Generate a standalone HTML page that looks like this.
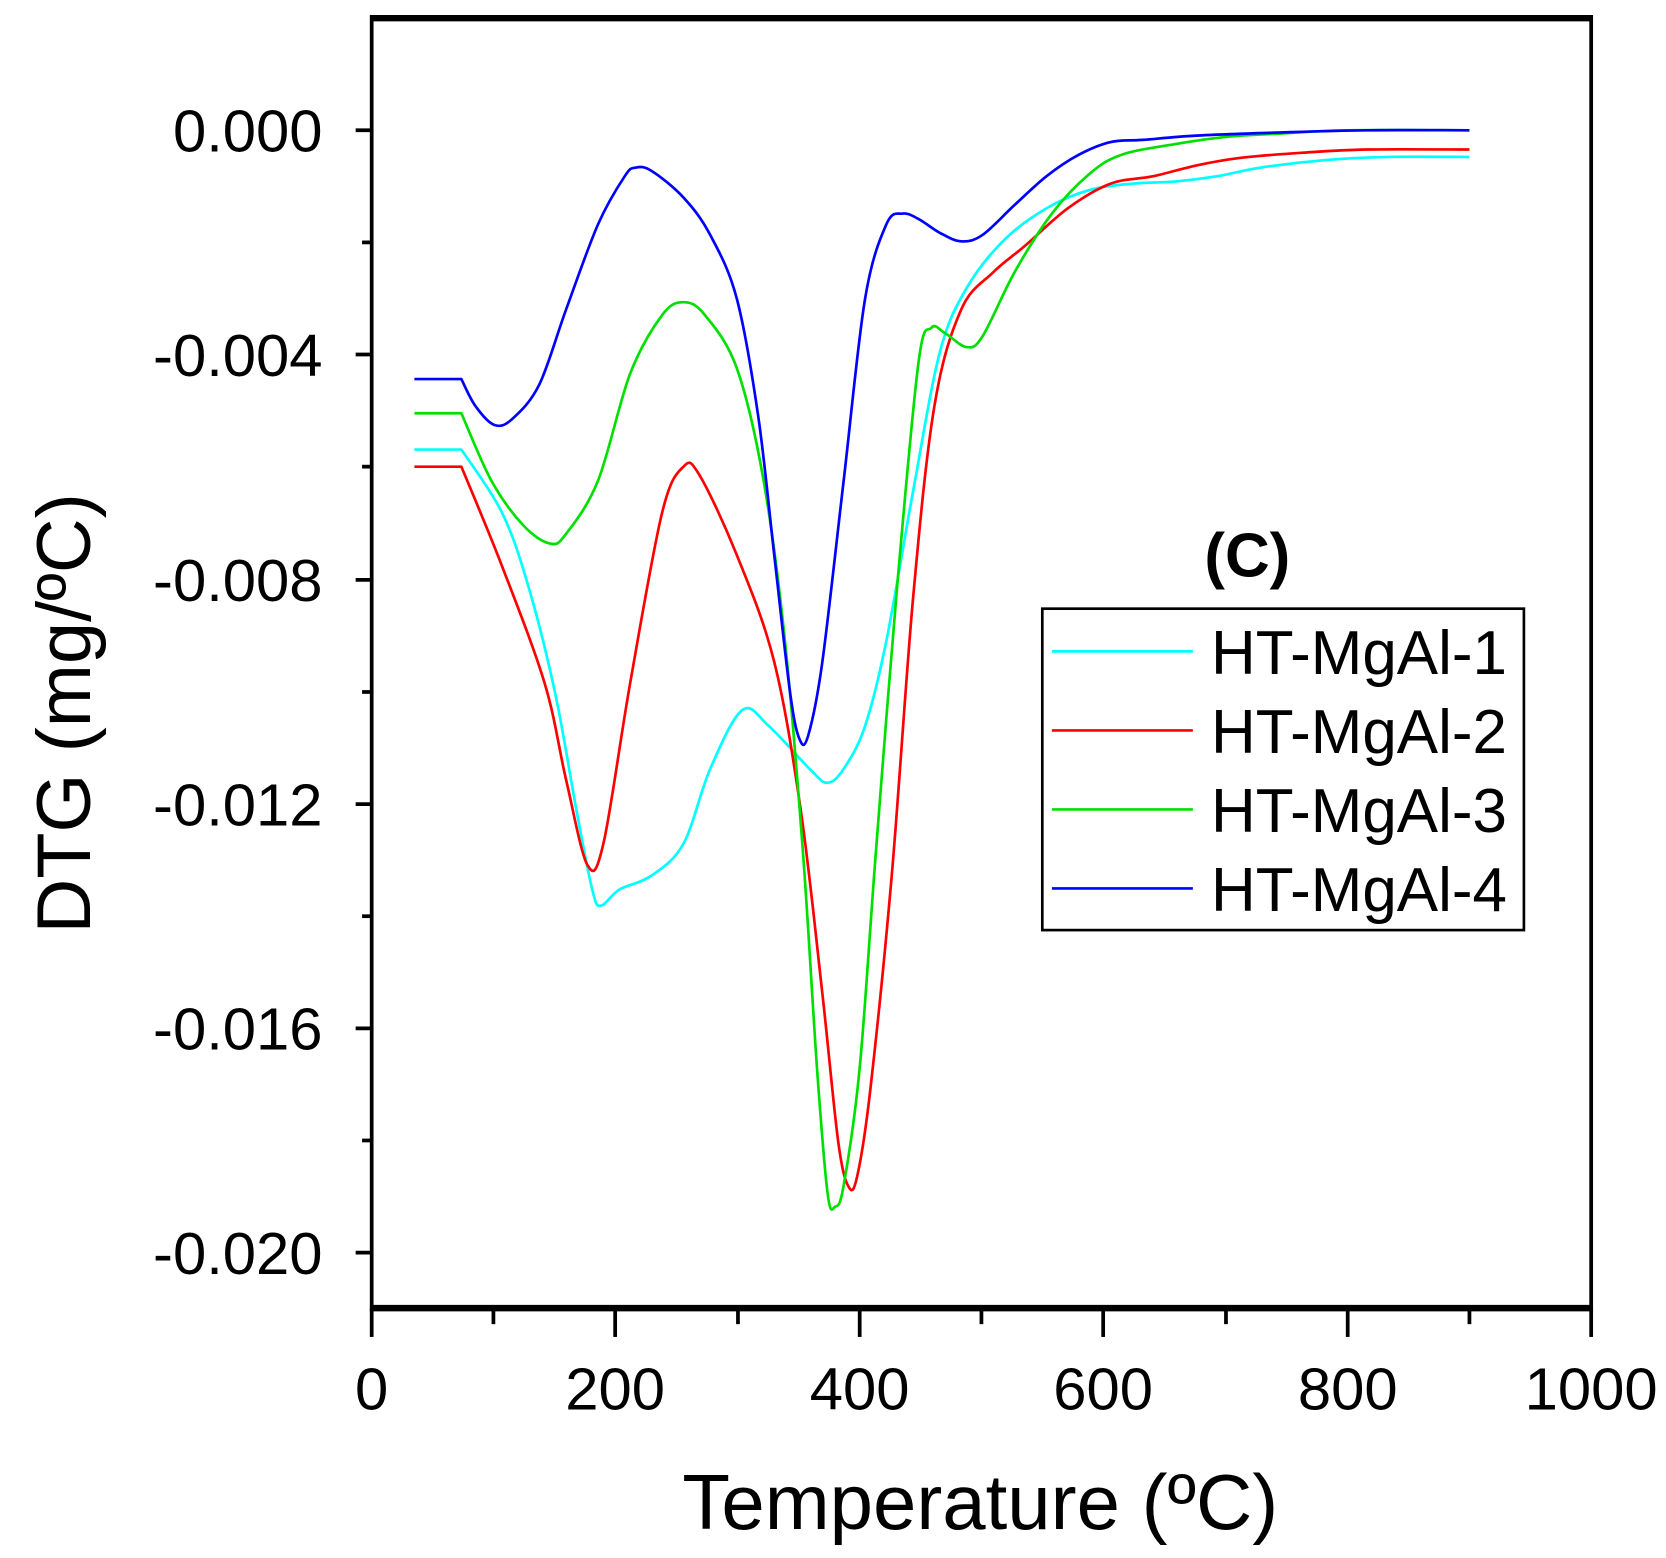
<!DOCTYPE html>
<html><head><meta charset="utf-8"><style>html,body{margin:0;padding:0;background:#fff}svg{display:block}</style></head>
<body>
<svg id="s" width="1666" height="1558" viewBox="0 0 1560 1459" xmlns="http://www.w3.org/2000/svg" font-family="Liberation Sans, sans-serif">
<rect width="1560" height="1459" fill="#fff"/>
<g stroke="#000" fill="none">
<line x1="348" y1="17" x2="1490" y2="17" stroke-width="6"/>
<line x1="348" y1="1225" x2="1490" y2="1225" stroke-width="6"/>
<line x1="348" y1="14" x2="348" y2="1228" stroke-width="3.5"/>
<line x1="1490" y1="14" x2="1490" y2="1228" stroke-width="3.5"/>
<g stroke-width="3.5">
<line x1="333" y1="122" x2="348" y2="122"/><line x1="333" y1="332" x2="348" y2="332"/><line x1="333" y1="543" x2="348" y2="543"/><line x1="333" y1="753" x2="348" y2="753"/><line x1="333" y1="963" x2="348" y2="963"/><line x1="333" y1="1173" x2="348" y2="1173"/>
<line x1="339" y1="227" x2="348" y2="227"/><line x1="339" y1="437" x2="348" y2="437"/><line x1="339" y1="648" x2="348" y2="648"/><line x1="339" y1="858" x2="348" y2="858"/><line x1="339" y1="1068" x2="348" y2="1068"/>
<line x1="348" y1="1225" x2="348" y2="1252"/><line x1="576" y1="1225" x2="576" y2="1252"/><line x1="805" y1="1225" x2="805" y2="1252"/><line x1="1033" y1="1225" x2="1033" y2="1252"/><line x1="1262" y1="1225" x2="1262" y2="1252"/><line x1="1490" y1="1225" x2="1490" y2="1252"/>
<line x1="462" y1="1225" x2="462" y2="1240"/><line x1="691" y1="1225" x2="691" y2="1240"/><line x1="919" y1="1225" x2="919" y2="1240"/><line x1="1148" y1="1225" x2="1148" y2="1240"/><line x1="1376" y1="1225" x2="1376" y2="1240"/>
</g></g>
<g font-size="56" text-anchor="end">
<text x="302" y="142">0.000</text><text x="302" y="352">-0.004</text><text x="302" y="563">-0.008</text><text x="302" y="773">-0.012</text><text x="302" y="983">-0.016</text><text x="302" y="1193">-0.020</text>
</g>
<g font-size="56" text-anchor="middle">
<text x="348" y="1320">0</text><text x="576" y="1320">200</text><text x="805" y="1320">400</text><text x="1033" y="1320">600</text><text x="1262" y="1320">800</text><text x="1490" y="1320">1000</text>
</g>
<text x="918" y="1432" font-size="73" text-anchor="middle">Temperature (ºC)</text>
<text transform="translate(84,668) rotate(-90)" font-size="71" text-anchor="middle">DTG (mg/ºC)</text>
<g id="curves" fill="none" stroke-width="2.5" stroke-linejoin="round"></g>
<text x="1168" y="540" font-size="58" font-weight="bold" text-anchor="middle">(C)</text>
<rect x="976" y="570" width="451" height="301" fill="#fff" stroke="#000" stroke-width="2.5"/>
<line x1="985" y1="610" x2="1117" y2="610" stroke="#00ffff" stroke-width="2.5"/>
<line x1="985" y1="684" x2="1117" y2="684" stroke="#ff0000" stroke-width="2.5"/>
<line x1="985" y1="758" x2="1117" y2="758" stroke="#00e000" stroke-width="2.5"/>
<line x1="985" y1="832" x2="1117" y2="832" stroke="#0000ff" stroke-width="2.5"/>
<g font-size="58"><text x="1134" y="631">HT-MgAl-1</text><text x="1134" y="705">HT-MgAl-2</text><text x="1134" y="779">HT-MgAl-3</text><text x="1134" y="853">HT-MgAl-4</text></g>
</svg>
<script>
var D={
"#00ffff":[[388,421],[432,421],[470,480],[495,550],[520,650],[540,760],[555,835],[563,848],[580,833],[610,820],[640,790],[665,720],[695,665],[720,680],[760,722],[775,733],[790,720],[810,680],[830,600],[855,460],[880,330],[905,270],[940,225],[980,195],[1020,178],[1060,172],[1100,170],[1140,165],[1180,157],[1240,150],[1300,147],[1376,147]],
"#ff0000":[[388,437],[432,437],[470,530],[510,640],[530,730],[550,810],[565,790],[590,640],[620,480],[640,437],[655,445],[690,520],[725,620],[750,760],[770,930],[785,1070],[795,1112],[803,1100],[815,1020],[835,820],[855,560],[875,380],[900,290],[930,255],[960,230],[1000,195],[1040,172],[1080,165],[1120,155],[1160,148],[1220,143],[1280,140],[1376,140]],
"#00e000":[[388,387],[432,387],[460,450],[490,492],[515,509],[530,500],[560,450],[590,350],[620,295],[640,283],[660,295],[690,345],[715,450],[735,600],[752,800],[765,1000],[775,1118],[782,1130],[790,1110],[805,1000],[820,800],[840,550],[860,340],[872,307],[885,312],[905,325],[920,315],[950,255],[985,200],[1020,163],[1050,145],[1100,135],[1150,128],[1200,125],[1260,122],[1376,122]],
"#0000ff":[[388,355],[432,355],[445,380],[463,398],[480,392],[505,360],[530,290],[560,210],[585,165],[595,157],[610,160],[640,185],[665,220],[690,280],[710,390],[725,520],[740,650],[749,693],[757,688],[770,620],[790,450],[810,280],[830,210],[845,200],[860,205],[880,218],[900,226],[920,220],[950,192],[980,165],[1010,145],[1040,133],[1070,131],[1120,127],[1200,124],[1280,122],[1376,122]]};
var g=document.getElementById("curves"),ns="http://www.w3.org/2000/svg";
for(var c in D){var p=D[c],d="M"+p[0][0]+","+p[0][1]+"L"+p[1][0]+","+p[1][1];
for(var i=1;i<p.length-1;i++){var p0=p[i-1],p1=p[i],p2=p[i+1],p3=p[i+2]||p2;if(i==1)p0=p1;
d+="C"+(p1[0]+(p2[0]-p0[0])/6)+","+(p1[1]+(p2[1]-p0[1])/6)+" "+(p2[0]-(p3[0]-p1[0])/6)+","+(p2[1]-(p3[1]-p1[1])/6)+" "+p2[0]+","+p2[1];}
var e=document.createElementNS(ns,"path");e.setAttribute("d",d);e.setAttribute("stroke",c);g.appendChild(e);}
</script>
</body></html>
